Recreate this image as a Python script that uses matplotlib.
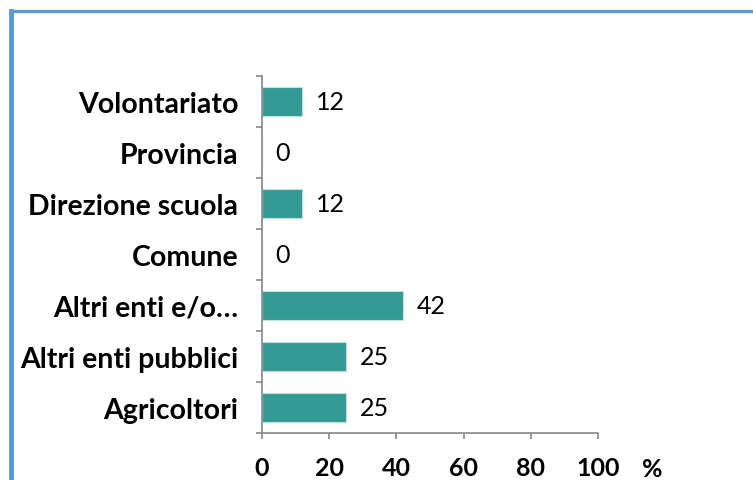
import matplotlib.pyplot as plt
from matplotlib.lines import Line2D
import numpy as np

plt.rcParams['font.family'] = ['Lato', 'DejaVu Sans']

categories = ['Agricoltori', 'Altri enti pubblici', 'Altri enti e/o…', 'Comune',
              'Direzione scuola', 'Provincia', 'Volontariato']
values = [25, 25, 42, 0, 12, 0, 12]
xticks = [0, 20, 40, 60, 80, 100]

fig = plt.figure(figsize=(7.53, 4.81), dpi=100)
ax = fig.add_axes([262 / 753, 1 - 434 / 481, 336 / 753, 357 / 481])

y = np.arange(len(categories))
bars = ax.barh(y, values, height=0.55, color='#339A95', edgecolor='#bfe0de', linewidth=0.8)

for b, v in zip(bars, values):
    ax.text(v + 4, b.get_y() + b.get_height() / 2, f'{v}', va='center', ha='left', fontsize=18)

ax.set_xlim(0, 100)
ax.set_ylim(-0.5, len(categories) - 0.5)
ax.set_xticks(xticks)
ax.set_xticklabels([str(t) for t in xticks], fontsize=18, fontweight='bold')
ax.set_yticks(y)
ax.set_yticklabels(categories, fontsize=20.5, fontweight='bold')
ax.set_yticks(np.arange(-0.5, len(categories)), minor=True)
ax.tick_params(axis='y', which='major', length=0, pad=17)
ax.tick_params(axis='y', which='minor', length=4.5, color='#868686', width=1.2)
ax.tick_params(axis='x', length=4.5, color='#868686', width=1.2, direction='out', pad=12)
for s in ['top', 'right']:
    ax.spines[s].set_visible(False)
for s in ['left', 'bottom']:
    ax.spines[s].set_color('#868686')
    ax.spines[s].set_linewidth(1.2)

fig.text(652 / 753, 1 - 470 / 481, '%', fontsize=18, fontweight='bold', ha='center', va='center')

# blue frame (left and top)
fig.add_artist(Line2D([10.5 / 753, 10.5 / 753], [0, 1 - 11.5 / 481], color='#5B9BD5', lw=3.5,
                      transform=fig.transFigure, solid_capstyle='projecting'))
fig.add_artist(Line2D([10.5 / 753, 1], [1 - 11.5 / 481, 1 - 11.5 / 481], color='#5B9BD5', lw=2.4,
                      transform=fig.transFigure))

fig.savefig('out.png', dpi=100)
